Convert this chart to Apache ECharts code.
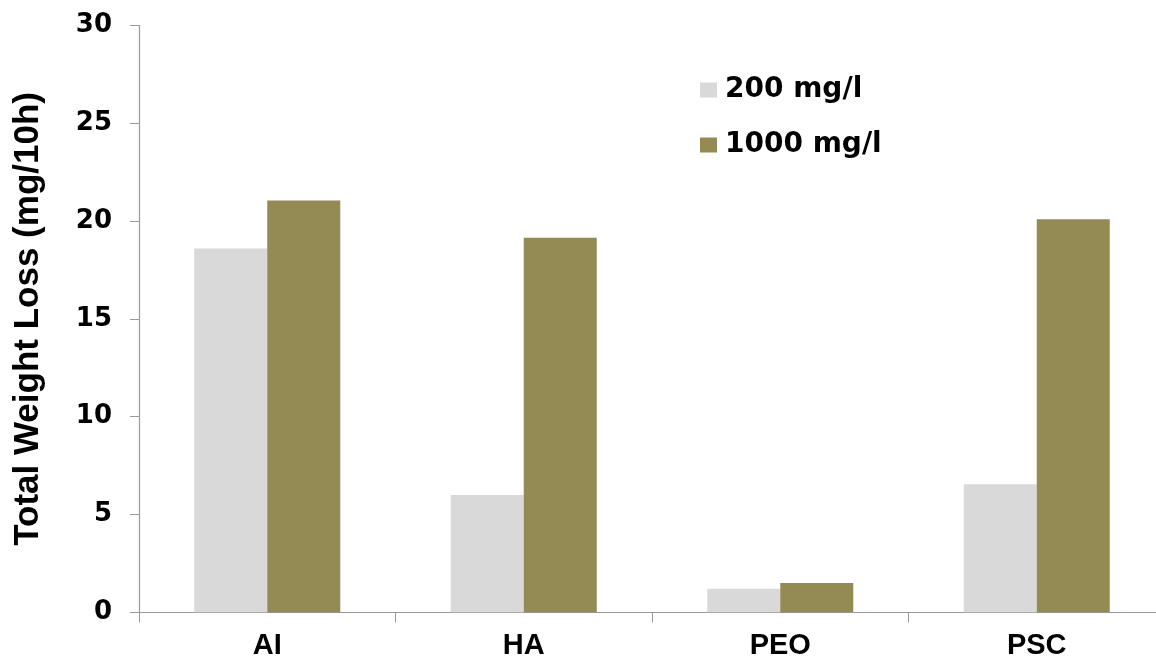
<!DOCTYPE html>
<html>
<head>
<meta charset="utf-8">
<script src="https://cdn.jsdelivr.net/npm/echarts@6/dist/echarts.min.js"></script>
<style>
  html, body { margin: 0; padding: 0; background: #ffffff; }
  #chart { width: 1156px; height: 664px; }
</style>
</head>
<body>
<div id="chart"></div>
<script>
// Total weight loss over 10 h for each additive at two concentrations
const categories = ['AI', 'HA', 'PEO', 'PSC'];
const seriesNames = ['200 mg/l', '1000 mg/l'];
const loss200 = [18.6, 6.0, 1.2, 6.55];
const loss1000 = [21.05, 19.15, 1.5, 20.1];
const yTicks = { min: 0, max: 30, step: 5 };

const axisGrey = '#9a9a9a';
const chart = echarts.init(document.getElementById('chart'));

chart.setOption({
  backgroundColor: '#ffffff',
  animation: false,
  grid: {
    left: 139, right: -9, top: 25.5, bottom: 51.7,
    containLabel: false,
    outerBoundsMode: 'none'
  },
  legend: {
    orient: 'vertical',
    left: 695,
    top: 71,
    itemWidth: 17,
    itemHeight: 15,
    itemGap: 27,
    icon: 'rect',
    data: seriesNames,
    textStyle: {
      fontFamily: 'DejaVu Sans',
      fontWeight: 'bold',
      fontSize: 28,
      lineHeight: 28,
      color: '#000000',
      padding: [0, 0, 0, 3]
    }
  },
  xAxis: {
    type: 'category',
    data: categories,
    boundaryGap: true,
    axisLine: { lineStyle: { color: axisGrey, width: 1.2 } },
    axisTick: { show: true, length: 10, inside: false, lineStyle: { color: axisGrey } },
    axisLabel: {
      margin: 19,
      fontFamily: 'Liberation Sans',
      fontWeight: 'bold',
      fontSize: 29,
      color: '#000000'
    },
    splitLine: { show: false }
  },
  yAxis: {
    type: 'value',
    min: yTicks.min,
    max: yTicks.max,
    interval: yTicks.step,
    name: 'Total Weight Loss (mg/10h)',
    nameLocation: 'middle',
    nameGap: 93,
    nameRotate: 90,
    nameTextStyle: {
      fontFamily: 'Liberation Sans',
      fontWeight: 'bold',
      fontSize: 35,
      color: '#000000'
    },
    axisLine: { show: true, lineStyle: { color: axisGrey, width: 1.2 } },
    axisTick: { show: true, length: 9, lineStyle: { color: axisGrey } },
    axisLabel: {
      margin: 27,
      fontFamily: 'DejaVu Sans',
      fontWeight: 'bold',
      fontSize: 26,
      color: '#000000'
    },
    splitLine: { show: false }
  },
  series: [
    {
      name: seriesNames[0],
      type: 'bar',
      data: loss200,
      barWidth: 73,
      barGap: '0%',
      itemStyle: { color: '#d9d9d9' }
    },
    {
      name: seriesNames[1],
      type: 'bar',
      data: loss1000,
      barWidth: 73,
      barGap: '0%',
      itemStyle: { color: '#948a54' }
    }
  ]
});
</script>
</body>
</html>
